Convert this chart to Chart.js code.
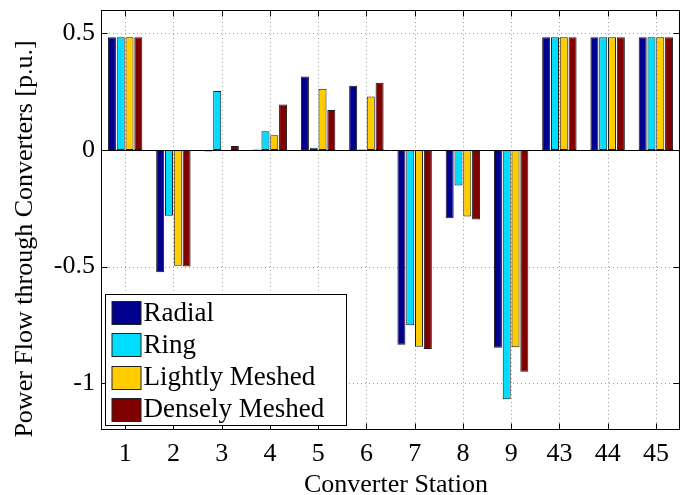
<!DOCTYPE html>
<html><head><meta charset="utf-8">
<script src="https://cdn.jsdelivr.net/npm/chart.js@4.4.1/dist/chart.umd.min.js"></script>
<style>html,body{margin:0;padding:0;background:#fff;}</style>
</head><body>
<canvas id="c" width="685" height="495" style="display:block;width:685px;height:495px"></canvas>
<script>
const stations = ['1','2','3','4','5','6','7','8','9','43','44','45'];
const radial  = [0.483,-0.524,-0.006,0.002,0.315,0.275,-0.835,-0.292,-0.848,0.483,0.483,0.483];
const ring    = [0.483,-0.282,0.253,0.080,0.010,0.002,-0.751,-0.152,-1.068,0.483,0.483,0.483];
const lightly = [0.483,-0.496,0.000,0.063,0.262,0.229,-0.843,-0.285,-0.845,0.483,0.483,0.483];
const densely = [0.483,-0.499,0.017,0.195,0.171,0.288,-0.853,-0.298,-0.950,0.483,0.483,0.483];
const yTicks = [-1,-0.5,0,0.5];
const yTickLabels = ['-1','-0.5','0','0.5'];
const seriesNames = ['Radial','Ring','Lightly Meshed','Densely Meshed'];
const seriesColors = ['#00008F','#00DDFF','#FFCC00','#800000'];
const xTitle = 'Converter Station';
const yTitle = 'Power Flow through Converters [p.u.]';

const FONT = '"Liberation Serif", "Times New Roman", serif';
const seriesValues = [radial, ring, lightly, densely];

const decor = {
  id: 'decor',
  beforeDatasetsDraw(chart) {
    const {ctx, chartArea: a, scales: {x, y}} = chart;
    ctx.save();
    ctx.strokeStyle = '#a0a0a0';
    ctx.lineWidth = 1;
    ctx.setLineDash([1, 3]);
    x.ticks.forEach((t, i) => {
      const px = Math.round(x.getPixelForTick(i)) + 0.5;
      ctx.beginPath(); ctx.moveTo(px, a.top); ctx.lineTo(px, a.bottom); ctx.stroke();
    });
    yTicks.forEach(v => {
      const py = Math.round(y.getPixelForValue(v)) + 0.5;
      ctx.beginPath(); ctx.moveTo(a.left, py); ctx.lineTo(a.right, py); ctx.stroke();
    });
    ctx.restore();
  },
  afterDatasetsDraw(chart) {
    const {ctx, chartArea: a, scales: {x, y}} = chart;
    ctx.save();
    ctx.setLineDash([]);
    ctx.strokeStyle = '#000';
    ctx.lineWidth = 1;
    // zero line
    const zy = Math.round(y.getPixelForValue(0)) + 0.5;
    ctx.beginPath(); ctx.moveTo(a.left, zy); ctx.lineTo(a.right, zy); ctx.stroke();
    // box
    const L = Math.round(a.left) + 0.5, R = Math.round(a.right) - 0.5;
    const T = Math.round(a.top) + 0.5, B = Math.round(a.bottom) - 0.5;
    ctx.strokeRect(L, T, R - L, B - T);
    // inward ticks
    const tl = 6;
    x.ticks.forEach((t, i) => {
      const px = Math.round(x.getPixelForTick(i)) + 0.5;
      ctx.beginPath();
      ctx.moveTo(px, T); ctx.lineTo(px, T + tl);
      ctx.moveTo(px, B); ctx.lineTo(px, B - tl);
      ctx.stroke();
    });
    yTicks.forEach(v => {
      const py = Math.round(y.getPixelForValue(v)) + 0.5;
      ctx.beginPath();
      ctx.moveTo(L, py); ctx.lineTo(L + tl, py);
      ctx.moveTo(R, py); ctx.lineTo(R - tl, py);
      ctx.stroke();
    });
    // legend
    const bx = L + 4, bw = 241, bh = 131, by = B - 4 - bh;
    ctx.fillStyle = '#fff';
    ctx.fillRect(bx, by, bw, bh);
    ctx.strokeStyle = '#000';
    ctx.strokeRect(bx, by, bw, bh);
    ctx.font = '27px ' + FONT;
    ctx.textBaseline = 'middle';
    ctx.textAlign = 'left';
    chart.data.datasets.forEach((ds, i) => {
      const cy = by + 18 + i * 32.3;
      ctx.fillStyle = ds.backgroundColor;
      ctx.fillRect(bx + 6.5, Math.round(cy - 11.5) + 0.5, 29, 23);
      ctx.strokeStyle = '#222';
      ctx.strokeRect(bx + 6.5, Math.round(cy - 11.5) + 0.5, 29, 23);
      ctx.fillStyle = '#000';
      ctx.fillText(ds.label, bx + 38, cy + 1);
    });
    // axis titles
    ctx.font = '26px ' + FONT;
    ctx.fillStyle = '#000';
    ctx.textBaseline = 'alphabetic';
    ctx.textAlign = 'center';
    ctx.fillText(xTitle, 396, 492);
    ctx.translate(32, 239);
    ctx.rotate(-Math.PI / 2);
    ctx.fillText(yTitle, 0, 0);
    ctx.restore();
  }
};

new Chart(document.getElementById('c'), {
  type: 'bar',
  data: {
    labels: stations,
    datasets: seriesNames.map((n, i) => ({
      label: n,
      data: seriesValues[i],
      backgroundColor: seriesColors[i],
      borderColor: '#1a1a1a',
      borderWidth: 1,
      borderSkipped: false,
      categoryPercentage: 0.73,
      barPercentage: 0.91
    }))
  },
  options: {
    responsive: false,
    devicePixelRatio: 1,
    animation: false,
    layout: {padding: {top: 10, right: 5, left: 0, bottom: 0}},
    plugins: {legend: {display: false}, tooltip: {enabled: false}},
    scales: {
      x: {
        type: 'category',
        offset: true,
        grid: {display: false, drawTicks: false},
        border: {display: false},
        ticks: {color: '#000', font: {family: FONT, size: 26}, padding: 9, maxRotation: 0, autoSkip: false},
        afterFit(s) { s.height = 65; s.paddingLeft = 0; s.paddingRight = 0; }
      },
      y: {
        min: -1.2, max: 0.6,
        grid: {display: false, drawTicks: false},
        border: {display: false},
        afterBuildTicks(s) { s.ticks = yTicks.map(v => ({value: v})); },
        ticks: {
          color: '#000', font: {family: FONT, size: 26}, padding: 6,
          callback(v) { const k = yTicks.indexOf(v); return k >= 0 ? yTickLabels[k] : ''; }
        },
        afterFit(s) { s.width = 101; s.paddingTop = 0; s.paddingBottom = 0; }
      }
    }
  },
  plugins: [decor]
});
</script>
</body></html>
